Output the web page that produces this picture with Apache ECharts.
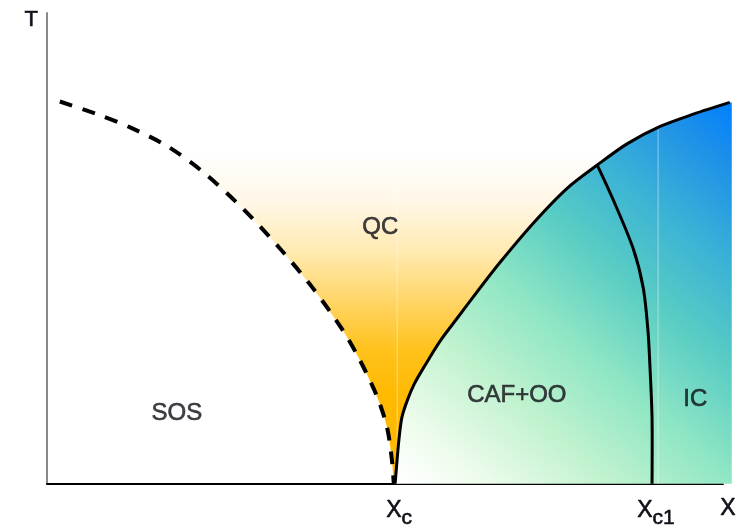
<!DOCTYPE html>
<html>
<head>
<meta charset="utf-8">
<script src="https://cdn.jsdelivr.net/npm/echarts@6/dist/echarts.min.js"></script>
<style>
  html, body { margin: 0; padding: 0; background: #ffffff; }
  #chart { width: 748px; height: 529px; }
</style>
</head>
<body>
<div id="chart"></div>
<script>
// Phase boundaries in reduced units: X = composition, T = temperature (both 0..1)
const dashedBoundary = [
  [0.019, 0.812], [0.078, 0.783], [0.123, 0.757], [0.178, 0.717], [0.231, 0.662],
  [0.290, 0.584], [0.342, 0.504], [0.393, 0.416], [0.438, 0.325], [0.463, 0.262],
  [0.488, 0.186], [0.503, 0.120], [0.510, 0.053], [0.513, 0.000]
];
const mainBoundary = [
  [0.515, 0.000], [0.518, 0.053], [0.521, 0.099], [0.525, 0.141], [0.533, 0.177],
  [0.543, 0.211], [0.559, 0.251], [0.581, 0.302], [0.607, 0.352], [0.638, 0.411],
  [0.670, 0.470], [0.719, 0.553], [0.769, 0.627], [0.814, 0.677], [0.858, 0.722],
  [0.907, 0.759], [0.956, 0.785], [1.010, 0.810]
];
const innerBoundary = [
  [0.814, 0.677], [0.837, 0.605], [0.867, 0.500], [0.882, 0.416], [0.889, 0.325],
  [0.892, 0.247], [0.895, 0.141], [0.895, 0.000]
];
const shadedRightEdge = 1.013;
const criticalX = [0.515, 0.895];
const criticalSub = ['c', 'c1'];
const regionNames = ['SOS', 'QC', 'CAF+OO', 'IC'];
const regionSpots = [[0.192, 0.150], [0.493, 0.544], [0.695, 0.188], [0.959, 0.179]];
const seams = [[[0.518, 0.70], [0.518, 0.0]], [[0.904, 0.757], [0.904, 0.0]]];

const FONT = '"Liberation Sans", Arial, Helvetica, sans-serif';
const INK = '#101018';
const STROKE = { textBorderColor: INK, textBorderWidth: 0.6 };
const SMOOTH = 0.3;

// Repeat a vertex so the bezier smoothing keeps a sharp corner there
function corner(p) { return [p, p]; }

function shapeSeries(z, build) {
  return {
    type: 'custom',
    coordinateSystem: 'cartesian2d',
    data: [[0, 0]],
    silent: true,
    clip: false,
    z: z,
    renderItem: function (params, api) { return build(api); }
  };
}

function px(api, pts) { return pts.map(function (p) { return api.coord(p); }); }

// Quasi-critical fan: fades from saturated amber near Xc to white higher up
function amberFan(api) {
  const top = [[shadedRightEdge, 0.86], [dashedBoundary[0][0], 0.86]];
  const ring = [].concat(
    dashedBoundary.slice(0, -1), corner(dashedBoundary[dashedBoundary.length - 1]),
    corner(mainBoundary[0]), mainBoundary.slice(1, -1), corner(mainBoundary[mainBoundary.length - 1]),
    corner(top[0]), corner(top[1]), corner(dashedBoundary[0])
  );
  const lo = api.coord([0, 0.18]);
  const hi = api.coord([0, 0.70]);
  return {
    type: 'polygon',
    shape: { points: px(api, ring), smooth: SMOOTH },
    style: {
      fill: new echarts.graphic.LinearGradient(0, lo[1], 0, hi[1], [
        { offset: 0.0, color: '#FFB900' },
        { offset: 0.2, color: '#FFC21C' },
        { offset: 0.4, color: '#FFD566' },
        { offset: 0.6, color: '#FFEAB0' },
        { offset: 0.8, color: '#FFF7E6' },
        { offset: 1.0, color: '#FFFFFF' }
      ], true)
    }
  };
}

// Ordered phases below the main boundary: white -> mint -> teal -> blue
function orderedRegion(api) {
  const ring = [].concat(
    corner(mainBoundary[0]), mainBoundary.slice(1, -1), corner(mainBoundary[mainBoundary.length - 1]),
    corner([shadedRightEdge, mainBoundary[mainBoundary.length - 1][1]]),
    corner([shadedRightEdge, 0]), corner([mainBoundary[0][0], 0])
  );
  const a = api.coord([0.53, 0]);
  const b = api.coord([shadedRightEdge, 0.81]);
  return {
    type: 'polygon',
    shape: { points: px(api, ring), smooth: SMOOTH },
    style: {
      fill: new echarts.graphic.LinearGradient(a[0], a[1], b[0], b[1], [
        { offset: 0.00, color: '#FFFFFF' },
        { offset: 0.10, color: '#EEFCEC' },
        { offset: 0.27, color: '#C0F2CF' },
        { offset: 0.43, color: '#8FE6C4' },
        { offset: 0.60, color: '#58CCC4' },
        { offset: 0.75, color: '#3AB2D6' },
        { offset: 0.90, color: '#1E90E8' },
        { offset: 1.00, color: '#0080FF' }
      ], true)
    }
  };
}

function seamLines(api) {
  return {
    type: 'group',
    children: seams.map(function (s) {
      return {
        type: 'polyline',
        shape: { points: px(api, s) },
        style: { stroke: 'rgba(255,255,255,0.45)', lineWidth: 1, fill: null }
      };
    })
  };
}

function curve(pts, dash) {
  return function (api) {
    return {
      type: 'polyline',
      shape: { points: px(api, pts), smooth: SMOOTH },
      style: {
        stroke: '#000000',
        lineWidth: dash ? 4 : 3,
        lineDash: dash ? [13, 11] : null,
        lineCap: 'butt',
        lineJoin: 'round',
        fill: null
      }
    };
  };
}

const chart = echarts.init(document.getElementById('chart'), null, { renderer: 'canvas' });

chart.setOption({
  animation: false,
  backgroundColor: '#ffffff',
  textStyle: { fontFamily: FONT },
  grid: { left: 47, right: 25, top: 13, bottom: 42, containLabel: false },
  xAxis: {
    type: 'value',
    min: 0,
    max: 1,
    name: 'X',
    nameLocation: 'end',
    nameGap: 5,
    nameTextStyle: Object.assign({
      fontFamily: FONT, fontSize: 23, color: INK,
      align: 'center', verticalAlign: 'top', padding: [13, 0, 0, 0]
    }, STROKE),
    axisLine: { show: true, onZero: false, lineStyle: { color: '#000000', width: 2 } },
    axisTick: { show: false },
    splitLine: { show: false },
    axisLabel: {
      customValues: criticalX,
      margin: 8,
      formatter: function (v) {
        let k = 0;
        criticalX.forEach(function (c, i) { if (Math.abs(c - v) < Math.abs(criticalX[k] - v)) k = i; });
        return '{x|X}{s|' + criticalSub[k] + '}';
      },
      rich: {
        x: Object.assign({ fontFamily: FONT, fontSize: 23, color: INK, padding: [0, 0, 0, 8] }, STROKE),
        s: Object.assign({ fontFamily: FONT, fontSize: 21, color: INK, padding: [16, 0, 0, 0] }, STROKE)
      }
    }
  },
  yAxis: {
    type: 'value',
    min: 0,
    max: 1,
    name: 'T',
    nameLocation: 'end',
    nameGap: -7,
    nameTextStyle: Object.assign({
      fontFamily: FONT, fontSize: 22, color: INK,
      align: 'right', verticalAlign: 'middle', padding: [0, 9, 0, 0]
    }, STROKE),
    axisLine: { show: true, onZero: false, lineStyle: { color: '#8a8a8a', width: 2 } },
    axisTick: { show: false },
    axisLabel: { show: false },
    splitLine: { show: false }
  },
  series: [
    shapeSeries(1, amberFan),
    shapeSeries(2, orderedRegion),
    shapeSeries(3, seamLines),
    shapeSeries(4, curve(dashedBoundary, true)),
    shapeSeries(4, curve(mainBoundary, false)),
    shapeSeries(4, curve(innerBoundary, false)),
    {
      type: 'scatter',
      z: 5,
      silent: true,
      symbolSize: 0,
      data: regionSpots.map(function (p, i) { return { value: p, name: regionNames[i] }; }),
      label: Object.assign({
        show: true,
        position: 'inside',
        formatter: '{b}',
        fontFamily: FONT,
        fontSize: 24,
        color: INK
      }, STROKE)
    }
  ]
});
</script>
</body>
</html>
